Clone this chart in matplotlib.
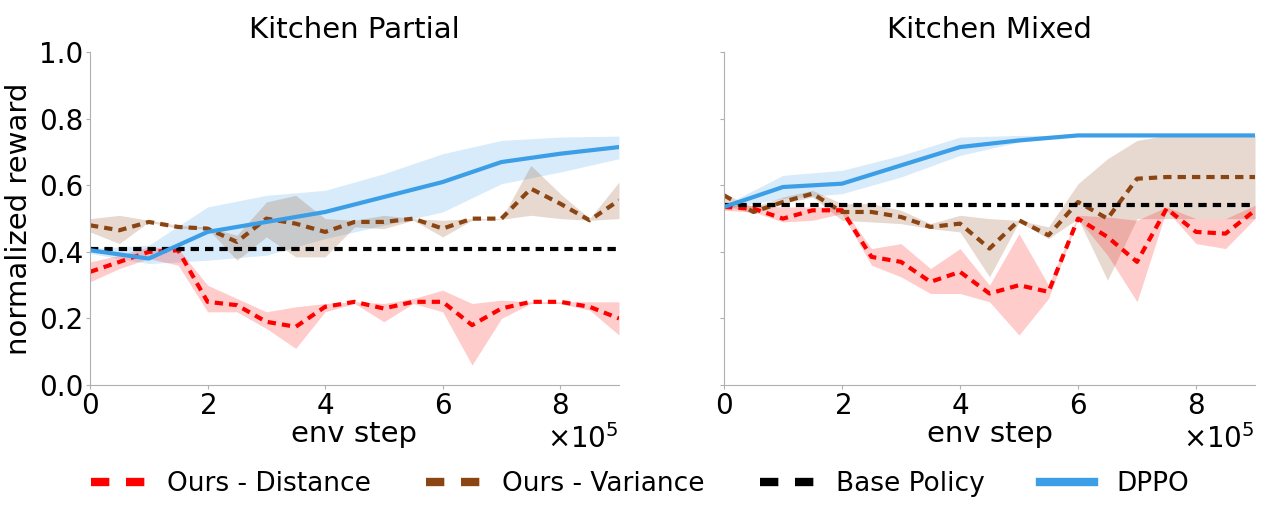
import numpy as np
import matplotlib.pyplot as plt
from matplotlib.lines import Line2D

# env steps, every 5e4 (dashed methods) and every 1e5 (DPPO)
steps = np.arange(0, 9.01, 0.5) * 1e5
steps_dppo = np.arange(0, 9.01, 1.0) * 1e5

# ---------------- Kitchen Partial ----------------
kp_dist = [0.34, 0.37, 0.40, 0.405, 0.25, 0.24, 0.19, 0.175, 0.235, 0.25,
           0.23, 0.25, 0.25, 0.18, 0.23, 0.25, 0.25, 0.235, 0.20]
kp_dist_hi = [0.37, 0.39, 0.415, 0.41, 0.30, 0.26, 0.22, 0.235, 0.245, 0.25,
              0.245, 0.26, 0.285, 0.245, 0.255, 0.25, 0.25, 0.25, 0.25]
kp_dist_lo = [0.31, 0.35, 0.38, 0.36, 0.22, 0.22, 0.17, 0.11, 0.22, 0.245,
              0.19, 0.245, 0.22, 0.06, 0.20, 0.245, 0.245, 0.225, 0.15]

kp_var = [0.48, 0.465, 0.49, 0.475, 0.47, 0.43, 0.50, 0.485, 0.46, 0.49,
          0.49, 0.50, 0.47, 0.50, 0.50, 0.59, 0.545, 0.495, 0.555]
kp_var_hi = [0.50, 0.51, 0.495, 0.48, 0.475, 0.45, 0.55, 0.57, 0.50, 0.495,
             0.51, 0.50, 0.495, 0.50, 0.50, 0.66, 0.575, 0.50, 0.61]
kp_var_lo = [0.46, 0.425, 0.49, 0.47, 0.47, 0.375, 0.445, 0.385, 0.385, 0.475,
             0.47, 0.495, 0.445, 0.495, 0.498, 0.51, 0.50, 0.495, 0.50]

kp_base = 0.41

kp_dppo = [0.405, 0.38, 0.46, 0.49, 0.52, 0.565, 0.61, 0.67, 0.695, 0.715]
kp_dppo_hi = [0.41, 0.42, 0.535, 0.57, 0.585, 0.635, 0.695, 0.735, 0.745, 0.748]
kp_dppo_lo = [0.395, 0.365, 0.375, 0.39, 0.44, 0.48, 0.52, 0.605, 0.64, 0.68]

# ---------------- Kitchen Mixed ----------------
km_dist = [0.535, 0.53, 0.50, 0.525, 0.525, 0.385, 0.37, 0.31, 0.34, 0.275,
           0.30, 0.28, 0.50, 0.445, 0.37, 0.53, 0.46, 0.455, 0.525]
km_dist_hi = [0.54, 0.54, 0.535, 0.535, 0.535, 0.41, 0.425, 0.35, 0.41, 0.30,
              0.455, 0.30, 0.51, 0.505, 0.495, 0.535, 0.50, 0.50, 0.54]
km_dist_lo = [0.525, 0.52, 0.49, 0.495, 0.515, 0.36, 0.325, 0.275, 0.275, 0.25,
              0.15, 0.26, 0.50, 0.39, 0.25, 0.525, 0.425, 0.41, 0.50]

km_var = [0.57, 0.52, 0.55, 0.575, 0.52, 0.52, 0.505, 0.475, 0.485, 0.41,
          0.495, 0.45, 0.55, 0.50, 0.62, 0.625, 0.625, 0.625, 0.625]
km_var_hi = [0.575, 0.535, 0.565, 0.585, 0.545, 0.545, 0.525, 0.485, 0.51, 0.50,
             0.495, 0.475, 0.605, 0.68, 0.735, 0.75, 0.75, 0.75, 0.75]
km_var_lo = [0.54, 0.515, 0.545, 0.565, 0.495, 0.49, 0.485, 0.47, 0.46, 0.325,
             0.49, 0.44, 0.50, 0.315, 0.50, 0.50, 0.50, 0.50, 0.50]

km_base = 0.54

km_dppo = [0.535, 0.595, 0.605, 0.66, 0.715, 0.735, 0.75, 0.75, 0.75, 0.75]
km_dppo_hi = [0.54, 0.63, 0.645, 0.69, 0.745, 0.75, 0.75, 0.75, 0.75, 0.75]
km_dppo_lo = [0.53, 0.56, 0.575, 0.625, 0.69, 0.73, 0.75, 0.75, 0.75, 0.75]

RED = '#ff0000'
BROWN = '#8b4513'
BLUE = '#3b9ee6'
DASH = (2.0, 1.45)

fig = plt.figure(figsize=(12.8, 5.12), dpi=100)
ax1 = fig.add_axes([0.0703, 0.248, 0.4133, 0.650])
ax2 = fig.add_axes([0.5656, 0.248, 0.4149, 0.650])

panels = [
    (ax1, "Kitchen Partial", kp_dist, kp_dist_hi, kp_dist_lo, kp_var, kp_var_hi,
     kp_var_lo, kp_base, kp_dppo, kp_dppo_hi, kp_dppo_lo),
    (ax2, "Kitchen Mixed", km_dist, km_dist_hi, km_dist_lo, km_var, km_var_hi,
     km_var_lo, km_base, km_dppo, km_dppo_hi, km_dppo_lo),
]

for (ax, title, d, dhi, dlo, v, vhi, vlo, base, p, phi, plo) in panels:
    ax.fill_between(steps_dppo, plo, phi, color=BLUE, alpha=0.2, lw=0)
    ax.fill_between(steps, vlo, vhi, color=BROWN, alpha=0.2, lw=0)
    ax.fill_between(steps, dlo, dhi, color=RED, alpha=0.2, lw=0)
    ax.plot(steps, d, color=RED, ls='--', dashes=DASH, lw=3)
    ax.plot(steps, v, color=BROWN, ls='--', dashes=DASH, lw=3)
    ax.axhline(base, color='black', ls='--', dashes=DASH, lw=3)
    ax.plot(steps_dppo, p, color=BLUE, lw=3)

    ax.set_title(title, fontsize=21, pad=10)
    ax.set_xlim(0, 9e5)
    ax.set_ylim(0, 1.0)
    ax.set_xticks([0, 2e5, 4e5, 6e5, 8e5])
    ax.set_yticks([0, 0.2, 0.4, 0.6, 0.8, 1.0])
    ax.ticklabel_format(axis='x', style='sci', scilimits=(0, 0), useMathText=True)
    ax.xaxis.get_offset_text().set_fontsize(20)
    ax.set_xlabel("env step", fontsize=21, labelpad=0)
    ax.tick_params(labelsize=20, color='#b0b0b0', length=3, pad=2)
    for s in ['top', 'right']:
        ax.spines[s].set_visible(False)
    for s in ['left', 'bottom']:
        ax.spines[s].set_color('#b0b0b0')

ax1.set_ylabel("normalized reward", fontsize=21, labelpad=4)
ax2.tick_params(labelleft=False)

handles = [
    Line2D([], [], color=RED, ls='--', dashes=(2.2, 2.0), lw=6),
    Line2D([], [], color=BROWN, ls='--', dashes=(2.2, 2.0), lw=6),
    Line2D([], [], color='black', ls='--', dashes=(2.2, 2.0), lw=6),
    Line2D([], [], color=BLUE, lw=6),
]
labels = ["Ours - Distance", "Ours - Variance", "Base Policy", "DPPO"]
fig.legend(handles, labels, loc='center', bbox_to_anchor=(0.5, 0.055), ncol=4,
           frameon=False, fontsize=19, handlelength=2.05, handletextpad=0.83,
           columnspacing=2.1)

plt.savefig('out.png', dpi=100)
